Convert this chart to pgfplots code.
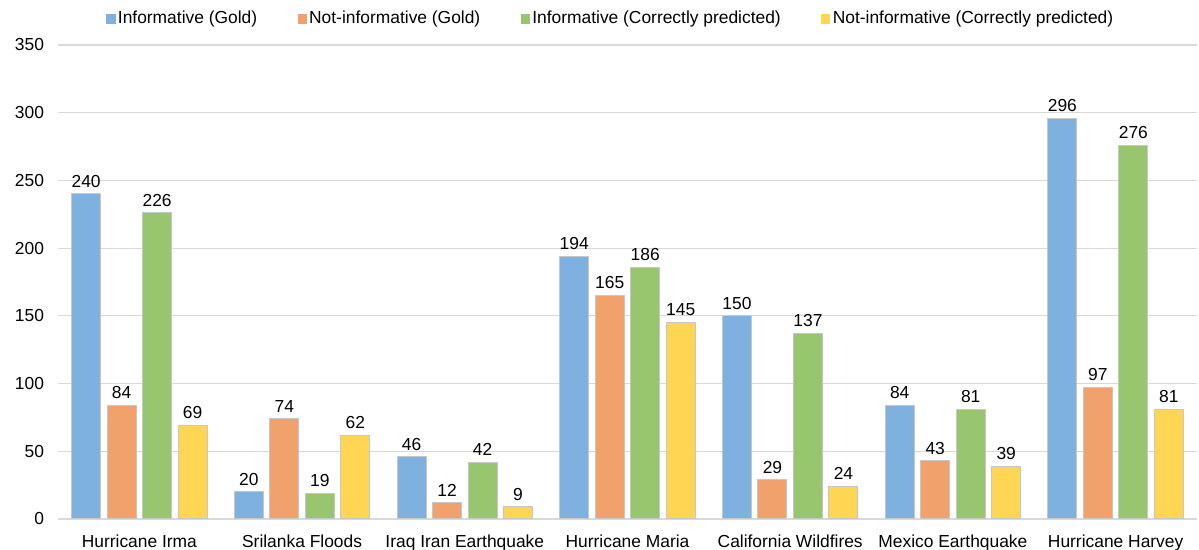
\documentclass[border=0pt]{standalone}
\usepackage{pgfplots}
\pgfplotsset{compat=1.18}
\usepackage{fontspec}
\setmainfont{Liberation Sans}
\definecolor{cblue}{HTML}{7FB1E0}
\definecolor{corange}{HTML}{F1A26C}
\definecolor{cgreen}{HTML}{97C66F}
\definecolor{cyellow}{HTML}{FFD653}
\definecolor{cgrid}{HTML}{D9D9D9}
\begin{document}
\begin{tikzpicture}
\begin{axis}[
  at={(0,0)}, anchor=south west,
  scale only axis,
  width=569.5pt, height=237pt,
  ybar=3.25pt, bar width=14.5pt,
  xmin=-0.5, xmax=6.5,
  ymin=0, ymax=350,
  ytick={0,50,...,350},
  xtick={0,1,2,3,4,5,6},
  xticklabels={Hurricane Irma, Srilanka Floods, Iraq Iran Earthquake, Hurricane Maria, California Wildfires, Mexico Earthquake, Hurricane Harvey},
  major tick length=0pt,
  axis line style={draw=none},
  ymajorgrids,
  grid style={cgrid, line width=0.6pt},
  tick label style={font=\fontsize{8.7}{10}\selectfont},
  /pgf/number format/assume math mode=true,
  yticklabel style={xshift=-3.5pt},
  xticklabel style={yshift=-4.5pt},
  nodes near coords,
  every node near coord/.append style={font=\fontsize{8.7}{10}\selectfont, black, inner sep=3pt},
  legend columns=4,
  legend style={draw=none, fill=none, at={(0.4855,1.055)}, anchor=center,
    font=\fontsize{8.7}{10}\selectfont,
    /tikz/every even column/.append style={column sep=19pt},
    nodes={inner sep=1.2pt}},
  legend image code/.code={\fill[#1,draw=none] (0pt,-2.3pt) rectangle (4.6pt,2.3pt);},
]
\addplot[fill=cblue, draw=black!22, line width=0.5pt] coordinates {(0,240) (1,20) (2,46) (3,194) (4,150) (5,84) (6,296)};
\addplot[fill=corange, draw=black!22, line width=0.5pt] coordinates {(0,84) (1,74) (2,12) (3,165) (4,29) (5,43) (6,97)};
\addplot[fill=cgreen, draw=black!22, line width=0.5pt] coordinates {(0,226) (1,19) (2,42) (3,186) (4,137) (5,81) (6,276)};
\addplot[fill=cyellow, draw=black!22, line width=0.5pt] coordinates {(0,69) (1,62) (2,9) (3,145) (4,24) (5,39) (6,81)};
\legend{Informative (Gold), Not-informative (Gold), Informative (Correctly predicted), Not-informative (Correctly predicted)}
\end{axis}
\pgfresetboundingbox
\path (-29pt,-15.5pt) rectangle (570.5pt,259.5pt);
\end{tikzpicture}
\end{document}
